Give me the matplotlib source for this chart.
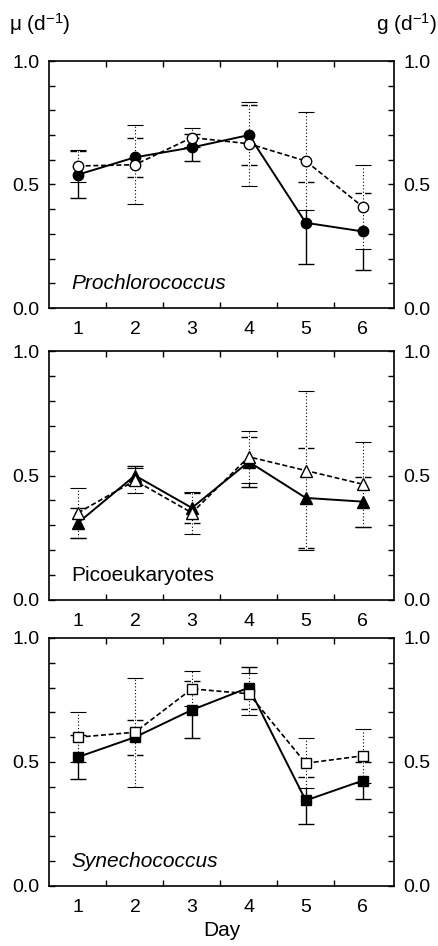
import matplotlib
matplotlib.use("Agg")
import matplotlib.pyplot as plt
import numpy as np

plt.rcParams['font.family'] = ['Liberation Sans', 'DejaVu Sans']
plt.rcParams['mathtext.fontset'] = 'custom'
plt.rcParams['mathtext.rm'] = 'Liberation Sans'
plt.rcParams['mathtext.default'] = 'regular'

days = [1, 2, 3, 4, 5, 6]

# Prochlorococcus
pro_mu = [0.54, 0.61, 0.65, 0.70, 0.345, 0.31]
pro_mu_err = [0.095, 0.08, 0.055, 0.12, 0.165, 0.155]
pro_g = [0.575, 0.58, 0.69, 0.665, 0.595, 0.41]
pro_g_err = [0.065, 0.16, 0.04, 0.17, 0.2, 0.17]

# Picoeukaryotes
pico_mu = [0.31, 0.50, 0.37, 0.555, 0.41, 0.395]
pico_mu_err = [0.06, 0.04, 0.06, 0.10, 0.2, 0.1]
pico_g = [0.35, 0.48, 0.35, 0.575, 0.52, 0.465]
pico_g_err = [0.10, 0.05, 0.085, 0.105, 0.32, 0.17]

# Synechococcus
syn_mu = [0.52, 0.60, 0.71, 0.80, 0.345, 0.425]
syn_mu_err = [0.09, 0.07, 0.115, 0.085, 0.095, 0.075]
syn_g = [0.60, 0.62, 0.795, 0.775, 0.495, 0.525]
syn_g_err = [0.10, 0.22, 0.07, 0.085, 0.10, 0.11]

panels = [
    ("Prochlorococcus", "italic", "o", 7.5, pro_mu, pro_mu_err, pro_g, pro_g_err),
    ("Picoeukaryotes", "normal", "^", 9, pico_mu, pico_mu_err, pico_g, pico_g_err),
    ("Synechococcus", "italic", "s", 7.5, syn_mu, syn_mu_err, syn_g, syn_g_err),
]

W, H = 439, 946
fig = plt.figure(figsize=(W / 100, H / 100), dpi=100)
# (top, bottom) of each frame in pixels
frames = [(61, 308), (351, 600), (638, 886)]
left, right = 49, 394

for (name, style, mk, ms, mu, mu_err, g, g_err), (top, bot) in zip(panels, frames):
    ax = fig.add_axes([left / W, 1 - bot / H, (right - left) / W, (bot - top) / H])

    # mu error bars (solid)
    ax.errorbar(days, mu, yerr=mu_err, fmt='none', ecolor='k', elinewidth=1.0,
                capsize=5.5, capthick=1.0, zorder=1)
    # g error bars: white underlay then dotted
    ax.errorbar(days, g, yerr=g_err, fmt='none', ecolor='white', elinewidth=2.2,
                capsize=0, zorder=2)
    eb = ax.errorbar(days, g, yerr=g_err, fmt='none', ecolor='k', elinewidth=0.8,
                     capsize=5.5, capthick=0.8, zorder=3)
    eb[2][0].set_linestyle((0, (1, 2)))

    ax.plot(days, mu, color='k', lw=1.4, marker=mk, ms=ms, mfc='k', mec='k', zorder=4)
    ax.plot(days, g, color='k', lw=1.2, ls=(0, (3, 1.6)), marker=mk, ms=ms,
            mfc='white', mec='k', mew=1.0, zorder=5)

    ax.set_xlim(0.49, 6.55)
    ax.set_ylim(0, 1)
    ax.set_xticks(days)
    ax.set_xticks(np.arange(1.5, 6, 1), minor=True)
    ax.set_yticks([0, 0.5, 1.0])
    ax.set_yticklabels(["0.0", "0.5", "1.0"])
    ax.set_yticks(np.arange(0.1, 1.0, 0.1), minor=True)
    ax.tick_params(axis='x', which='major', length=0, pad=9, labelsize=14)
    ax.tick_params(axis='x', which='minor', direction='in', length=4, width=1,
                   top=True, bottom=True)
    ax.tick_params(axis='y', which='both', direction='in', length=4, width=1,
                   left=True, right=True, labelleft=True, labelright=True,
                   pad=7, labelsize=14)
    for sp in ax.spines.values():
        sp.set_linewidth(1.2)

    ax.text(0.064, 0.075, name, transform=ax.transAxes, fontsize=15,
            style=style, va='baseline', ha='left')

ax.set_xlabel("Day", fontsize=15, labelpad=4)

fig.text(9 / W, 1 - 24 / H, r"μ (d$^{-1}$)", fontsize=15, va='center', ha='left')
fig.text(437 / W, 1 - 24 / H, r"g (d$^{-1}$)", fontsize=15, va='center', ha='right')

fig.savefig("out.png", dpi=100)
